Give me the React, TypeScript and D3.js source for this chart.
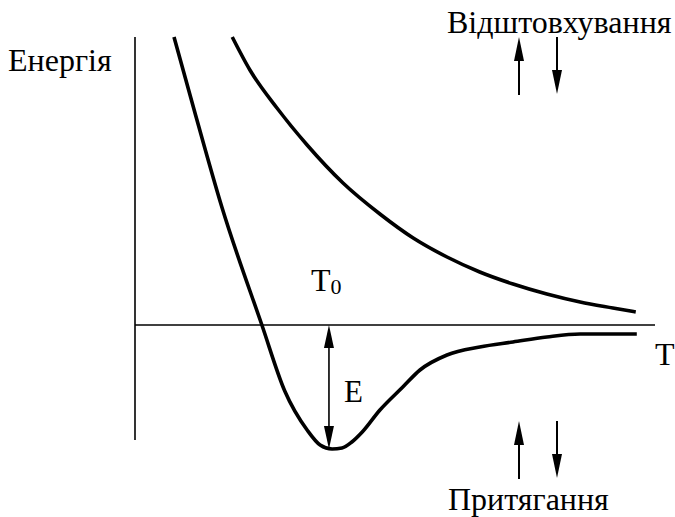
import React from "react";
import * as d3 from "d3";

// Potential-energy curve (distance r, energy E)
const potentialR = [0.75, 1.17, 1.67, 2.44, 2.88, 3.31, 3.56, 3.79, 3.98, 4.17, 4.37, 4.71, 5.15, 5.48, 6.0, 6.63, 7.27, 7.92, 8.56, 9.65];
const potentialE = [5.76, 4.18, 2.36, 0, -1.32, -2.1, -2.4, -2.48, -2.46, -2.34, -2.14, -1.7, -1.24, -0.9, -0.6, -0.44, -0.34, -0.24, -0.18, -0.18];

// Repulsion curve
const repulsionR = [1.87, 2.21, 2.73, 3.31, 4.0, 4.71, 5.35, 6.0, 6.63, 7.27, 7.92, 8.56, 9.19, 9.63];
const repulsionE = [5.76, 5.1, 4.34, 3.6, 2.84, 2.22, 1.74, 1.36, 1.06, 0.82, 0.62, 0.46, 0.34, 0.26];

const rDomain = [0, 10];
const eDomain = [-2.3, 5.76];
const bondR = 3.73;
const bondE = -2.48;

const labels = {
  yTitle: "Енергія",
  xTitle: "T",
  t0: "T",
  t0sub: "0",
  e: "E",
  repulsion: "Відштовхування",
  attraction: "Притягання",
};

const W = 675;
const H = 517;
const FONT = "Liberation Serif";

function Arrow({ x, y1, y2, len = 24, half = 5, w = 2 }: { x: number; y1: number; y2: number; len?: number; half?: number; w?: number }) {
  const dir = y2 > y1 ? 1 : -1;
  const base = y2 - dir * len;
  return (
    <g>
      <line x1={x} y1={y1} x2={x} y2={base} stroke="#000" strokeWidth={w} />
      <path d={`M${x},${y2} L${x - half},${base} L${x + half},${base} Z`} fill="#000" />
    </g>
  );
}

export default function App() {
  const x = d3.scaleLinear().domain(rDomain).range([135, 655]);
  const y = d3.scaleLinear().domain(eDomain).range([440, 37]);

  const line = d3
    .line<[number, number]>()
    .x((d) => x(d[0]))
    .y((d) => y(d[1]))
    .curve(d3.curveMonotoneX);

  const pot = potentialR.map((r, i) => [r, potentialE[i]] as [number, number]);
  const rep = repulsionR.map((r, i) => [r, repulsionE[i]] as [number, number]);

  const x0 = x(0);
  const y0 = y(0);

  return (
    <svg width={W} height={H} style={{ position: "absolute", left: 0, top: 0, background: "#fff" }} fontFamily={FONT}>
      <rect width={W} height={H} fill="#fff" />
      <line x1={x0} y1={y(eDomain[1])} x2={x0} y2={y(eDomain[0])} stroke="#000" strokeWidth={1.6} />
      <line x1={x0} y1={y0} x2={x(rDomain[1])} y2={y0} stroke="#000" strokeWidth={1.6} />

      <path d={line(rep) || ""} fill="none" stroke="#000" strokeWidth={3.6} />
      <path d={line(pot) || ""} fill="none" stroke="#000" strokeWidth={3.6} />

      <g>
        <line x1={x(bondR)} y1={y0 + 22} x2={x(bondR)} y2={y(bondE) - 22} stroke="#000" strokeWidth={1.6} />
        <path d={`M${x(bondR)},${y0} L${x(bondR) - 5},${y0 + 23} L${x(bondR) + 5},${y0 + 23} Z`} fill="#000" />
        <path d={`M${x(bondR)},${y(bondE)} L${x(bondR) - 5},${y(bondE) - 23} L${x(bondR) + 5},${y(bondE) - 23} Z`} fill="#000" />
      </g>

      <Arrow x={519} y1={95} y2={37} />
      <Arrow x={557} y1={37} y2={94} />
      <Arrow x={519} y1={479} y2={421} />
      <Arrow x={557} y1={421} y2={478} />

      <text x={8} y={71} fontSize={32}>{labels.yTitle}</text>
      <text x={447} y={33} fontSize={32}>{labels.repulsion}</text>
      <text x={448} y={510} fontSize={32}>{labels.attraction}</text>
      <text x={311} y={291} fontSize={32}>
        {labels.t0}
        <tspan fontSize={22} dy={3}>{labels.t0sub}</tspan>
      </text>
      <text x={655} y={365} fontSize={32}>{labels.xTitle}</text>
      <text x={344} y={402} fontSize={31}>{labels.e}</text>
    </svg>
  );
}
